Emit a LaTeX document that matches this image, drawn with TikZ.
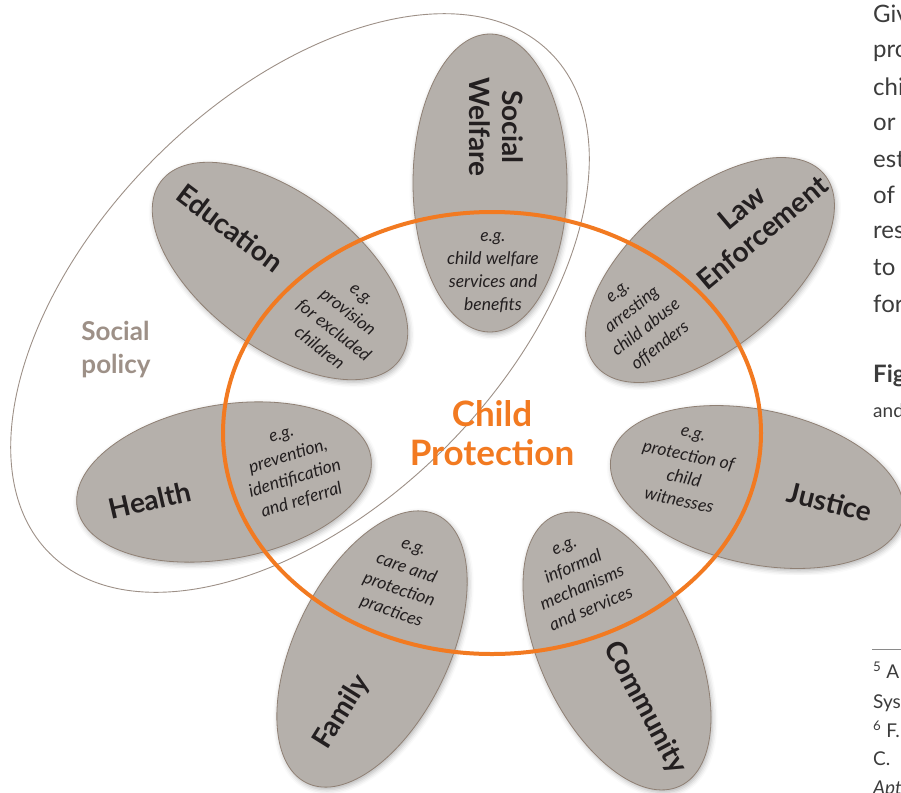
\documentclass[tikz,border=0pt]{standalone}
\usepackage{fontspec}
\setmainfont{Lato}
\usetikzlibrary{shapes.geometric,shadows.blur}

\definecolor{petalgrey}{HTML}{B5B0AB}
\definecolor{petalrim}{HTML}{8F8074}
\definecolor{cporange}{HTML}{F27A21}
\definecolor{policygrey}{HTML}{9D9087}
\definecolor{inktext}{HTML}{231F20}
\definecolor{pagetext}{HTML}{3C3C3C}

\begin{document}
\begin{tikzpicture}[
  x=1pt, y=-1pt,
  every node/.style={text=inktext},
  petal/.style={ellipse, draw=petalrim, line width=0.8pt, fill=petalgrey,
    minimum width=298pt, minimum height=154pt, inner sep=0pt, outer sep=0pt,
    blur shadow={shadow xshift=1.5pt, shadow yshift=-2.5pt,
      shadow blur radius=5pt, shadow opacity=30}},
  sector/.style={font=\bfseries\fontsize{28}{33}\selectfont, align=center},
  example/.style={font=\itshape\fontsize{17.5}{23}\selectfont, align=center},
  policy/.style={ellipse, draw=policygrey, line width=0.9pt,
    minimum width=708pt, minimum height=410pt, inner sep=0pt},
  ring/.style={ellipse, draw=cporange, line width=4pt, text=cporange,
    minimum width=538pt, minimum height=442pt, align=center,
    font=\bfseries\fontsize{35}{39}\selectfont},
  pagefrag/.style={font=\fontsize{24}{36}\selectfont, text=pagetext,
    anchor=base west, inner sep=0pt},
  footfrag/.style={pagefrag, font=\fontsize{19}{28}\selectfont}
]
\useasboundingbox (0,0) rectangle (901,792);
\clip (0,0) rectangle (901,792);

% Social policy
\node[policy, rotate=45] (policy) at (300,303) {};
\node[font=\bfseries\fontsize{26}{33}\selectfont, text=policygrey, align=left]
  (policylabel) at (116,350) {Social\\policy};

% Sectors
\node[petal, rotate=90]  (welfare)   at (490,183) {};
\node[petal, rotate=40]  (law)       at (710,270) {};
\node[petal, rotate=-12] (justice)   at (757,487) {};
\node[petal, rotate=-65] (community) at (617,651) {};
\node[petal, rotate=64]  (family)    at (372,649) {};
\node[petal, rotate=10]  (health)    at (224,482) {};
\node[petal, rotate=-37] (education) at (280,271) {};

\node[sector, rotate=-90] (welfaretitle) at (496,127) {Social\\Welfare};
\node[sector, rotate=40]  (lawtitle) at (752,220) {Law\\Enforcement};
\node[sector, rotate=-14] (justicetitle) at (830,502) {Justice};
\node[sector, rotate=-62] (communitytitle) at (645,708) {Community};
\node[sector, rotate=58]  (familytitle) at (342,712) {Family};
\node[sector, rotate=13]  (healthtitle) at (150,500) {Health};
\node[sector, rotate=-37] (educationtitle) at (230,228) {Education};

\node[example] (welfareeg) at (493,273) {e.g.\\child welfare\\services and\\benefits};
\node[example, rotate=38] (laweg) at (640,320) {e.g.\\arresting\\child abuse\\offenders};
\node[example, rotate=-12] (justiceeg) at (686,468) {e.g.\\protection of\\child\\witnesses};
\node[example, rotate=23] (communityeg) at (578,578) {e.g.\\informal\\mechanisms\\and services};
\node[example, rotate=-19] (familyeg) at (402,581) {e.g.\\care and\\protection\\practices};
\node[example, rotate=17] (healtheg) at (292,469) {e.g.\\prevention,\\identification\\and referral};
\node[example, rotate=-38] (educationeg) at (340,322) {e.g.\\provision\\for excluded\\children};

% Child protection
\node[ring] (cp) at (492,433) {Child\\Protection};

% Page text beside the figure
\node[pagefrag] (p1) at (873,23) {Giv};
\node[pagefrag] (p2) at (873,58) {pro};
\node[pagefrag] (p3) at (873,95) {chi};
\node[pagefrag] (p4) at (873,130) {or};
\node[pagefrag] (p5) at (873,167) {est};
\node[pagefrag] (p6) at (873,203) {of};
\node[pagefrag] (p7) at (873,238) {res};
\node[pagefrag] (p8) at (873,275) {to};
\node[pagefrag] (p9) at (873,312) {for};
\node[pagefrag, font=\bfseries\fontsize{24}{36}\selectfont] (figcap) at (873,382) {Fig};
\node[footfrag] (figsub) at (873,417) {and};
\draw[pagetext!60, line width=0.8pt] (872,649) -- (901,649);
\node[footfrag] (f1) at (873,678) {\textsuperscript{5} A};
\node[footfrag] (f2) at (873,708) {Sys};
\node[footfrag] (f3) at (873,737) {\textsuperscript{6} F.};
\node[footfrag] (f4) at (873,765) {C.};
\node[footfrag, font=\itshape\fontsize{19}{28}\selectfont] (f5) at (873,794) {Apt};

\end{tikzpicture}
\end{document}
